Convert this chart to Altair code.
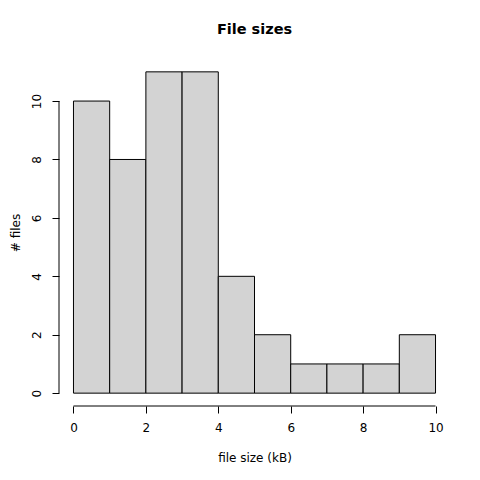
import altair as alt
import pandas as pd

bin_start = [0, 1, 2, 3, 4, 5, 6, 7, 8, 9]
bin_end = [1, 2, 3, 4, 5, 6, 7, 8, 9, 10]
counts = [10, 8, 11, 11, 4, 2, 1, 1, 1, 2]
x_ticks = [0, 2, 4, 6, 8, 10]
y_ticks = [0, 2, 4, 6, 8, 10]

df = pd.DataFrame({"start": bin_start, "end": bin_end, "count": counts, "base": [0] * len(counts)})

FONT = "DejaVu Sans"
xs = alt.Scale(domain=[-0.4, 10.4], nice=False, zero=False)
ys = alt.Scale(domain=[-0.44, 11.44], nice=False, zero=False)

bars = alt.Chart(df).mark_rect(fill="#d3d3d3", stroke="black", strokeWidth=1).encode(
    x=alt.X("start:Q", scale=xs, axis=alt.Axis(
        values=x_ticks, domain=False, grid=False, tickSize=7, tickColor="black",
        labelFontSize=12, labelFont=FONT, labelColor="black", labelPadding=9,
        title="file size (kB)", titleFontSize=12, titleFont=FONT, titleFontWeight="normal",
        titleColor="black", titlePadding=19, format="d")),
    x2="end:Q",
    y=alt.Y("count:Q", scale=ys, axis=alt.Axis(
        values=y_ticks, domain=False, grid=False, tickSize=7, tickColor="black",
        labelFontSize=12, labelFont=FONT, labelColor="black", labelPadding=9, labelAngle=-90,
        title="# files", titleFontSize=12, titleFont=FONT, titleFontWeight="normal",
        titleColor="black", titlePadding=8, format="d")),
    y2="base:Q",
)

xline = pd.DataFrame({"a": [min(x_ticks)], "b": [max(x_ticks)], "y": [-0.44]})
yline = pd.DataFrame({"a": [min(y_ticks)], "b": [max(y_ticks)], "x": [-0.4]})

xrule = alt.Chart(xline).mark_rule(color="black", strokeWidth=1).encode(
    x=alt.X("a:Q", scale=xs), x2="b:Q", y=alt.Y("y:Q", scale=ys))
yrule = alt.Chart(yline).mark_rule(color="black", strokeWidth=1).encode(
    y=alt.Y("a:Q", scale=ys), y2="b:Q", x=alt.X("x:Q", scale=xs))

chart = alt.layer(bars, xrule, yrule).properties(
    width=391, height=347,
    background="white",
    title=alt.TitleParams("File sizes", font=FONT, fontSize=14.5, fontWeight="bold",
                          color="black", anchor="middle", offset=22),
    autosize=alt.AutoSizeParams(type="none"),
    padding={"left": 51, "top": 51, "right": 22, "bottom": 66},
).configure_view(strokeWidth=0, stroke=None)

chart.save("out.html", embed_options={"renderer": "svg", "actions": False})
